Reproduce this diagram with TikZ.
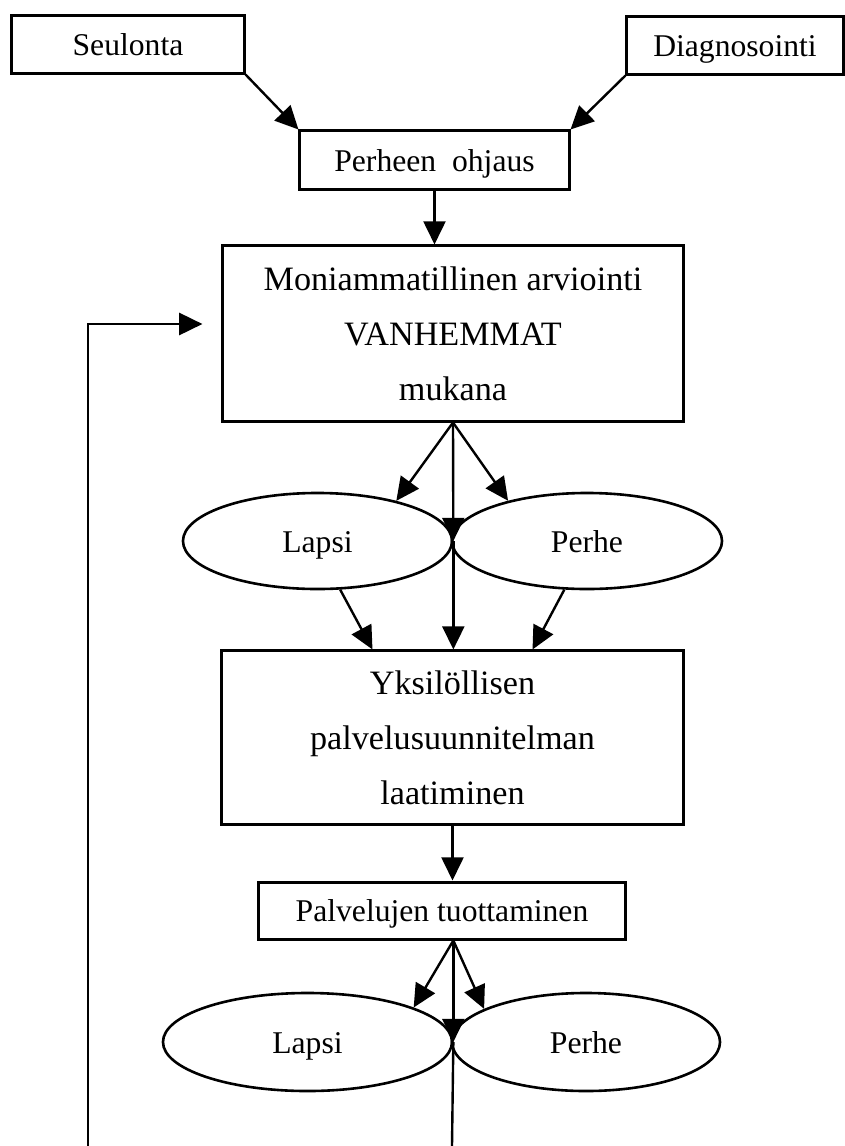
\documentclass[tikz,border=0pt]{standalone}
\usepackage{fontspec}
\setmainfont{Liberation Serif}
\usepackage{tikz}
\usetikzlibrary{shapes,arrows.meta,positioning,calc}

\begin{document}
\begin{tikzpicture}[
  x=0.025cm, y=-0.025cm,
  box/.style={draw, line width=0.075cm, rectangle, inner sep=0pt, font=\fontsize{22.5}{39}\selectfont, text height=19pt, text depth=3pt},
  bigbox/.style={draw, line width=0.075cm, rectangle, inner sep=0pt, align=center, font=\fontsize{24.3}{39}\selectfont},
  ell/.style={draw, line width=0.065cm, ellipse, inner sep=0pt, font=\fontsize{22.5}{39}\selectfont, text height=19pt, text depth=3pt},
  arrow/.style={-{Triangle[length=0.58cm, width=0.55cm]}, line width=0.06cm},
  line/.style={line width=0.06cm}
]
  \useasboundingbox (0,0) rectangle (845,1146);

  % Top
  \node[box, minimum width=5.8cm, minimum height=1.425cm] (seul) at (128,44.5) {Seulonta};
  \node[box, minimum width=5.4cm, minimum height=1.425cm] (diag) at (735,45.5) {Diagnosointi};
  \node[box, minimum width=6.725cm, minimum height=1.45cm] (ohjaus) at (434.5,160) {Perheen\ \ ohjaus};

  % Assessment
  \node[bigbox, minimum width=11.5cm, minimum height=4.375cm] (arvio) at (453,333.5)
    {Moniammatillinen arviointi\\VANHEMMAT\\mukana};
  \node[ell, minimum width=6.725cm, minimum height=2.4cm] (lapsi1) at (317.5,541) {Lapsi};
  \node[ell, minimum width=6.75cm, minimum height=2.4cm] (perhe1) at (587,541) {Perhe};

  % Plan
  \node[bigbox, minimum width=11.525cm, minimum height=4.325cm] (suunn) at (452.5,737.5)
    {Yksilöllisen\\palvelusuunnitelman\\laatiminen};
  \node[box, minimum width=9.15cm, minimum height=1.425cm] (tuott) at (442,910.5) {Palvelujen tuottaminen};
  \node[ell, minimum width=7.225cm, minimum height=2.45cm] (lapsi2) at (307.5,1042) {Lapsi};
  \node[ell, minimum width=6.7cm, minimum height=2.45cm] (perhe2) at (586,1042) {Perhe};

  % Loose ends
  \coordinate (fbend) at (88,1146);
  \coordinate (botend) at (452,1146);
  \coordinate (fan2) at (tuott.south -| lapsi2.east);

  % Arrows
  \draw[arrow] (seul.south east) -- (ohjaus.north west);
  \draw[arrow] (diag.south west) -- (ohjaus.north east);
  \draw[arrow] (ohjaus.south) -- (ohjaus.south |- arvio.north);
  \draw[arrow] (arvio.south) -- (lapsi1.27);
  \draw[arrow] (arvio.south) -- (perhe1.153);
  \draw[arrow] (arvio.south) -- (lapsi1.east);
  \draw[arrow] (lapsi1.-65) -- ([xshift=-2cm]suunn.north);
  \draw[arrow] (perhe1.-115) -- ([xshift=2cm]suunn.north);
  \draw[arrow] (lapsi1.east) -- (lapsi1.east |- suunn.north);
  \draw[arrow] (suunn.south) -- (suunn.south |- tuott.north);
  \draw[arrow] (fan2) -- (lapsi2.18);
  \draw[arrow] (fan2) -- (perhe2.162);
  \draw[arrow] (fan2) -- (lapsi2.east);
  \draw[line] (lapsi2.east) -- (botend);
  \draw[arrow] (fbend) |- ([shift={(-19,-9.5)}]arvio.west);
\end{tikzpicture}
\end{document}
